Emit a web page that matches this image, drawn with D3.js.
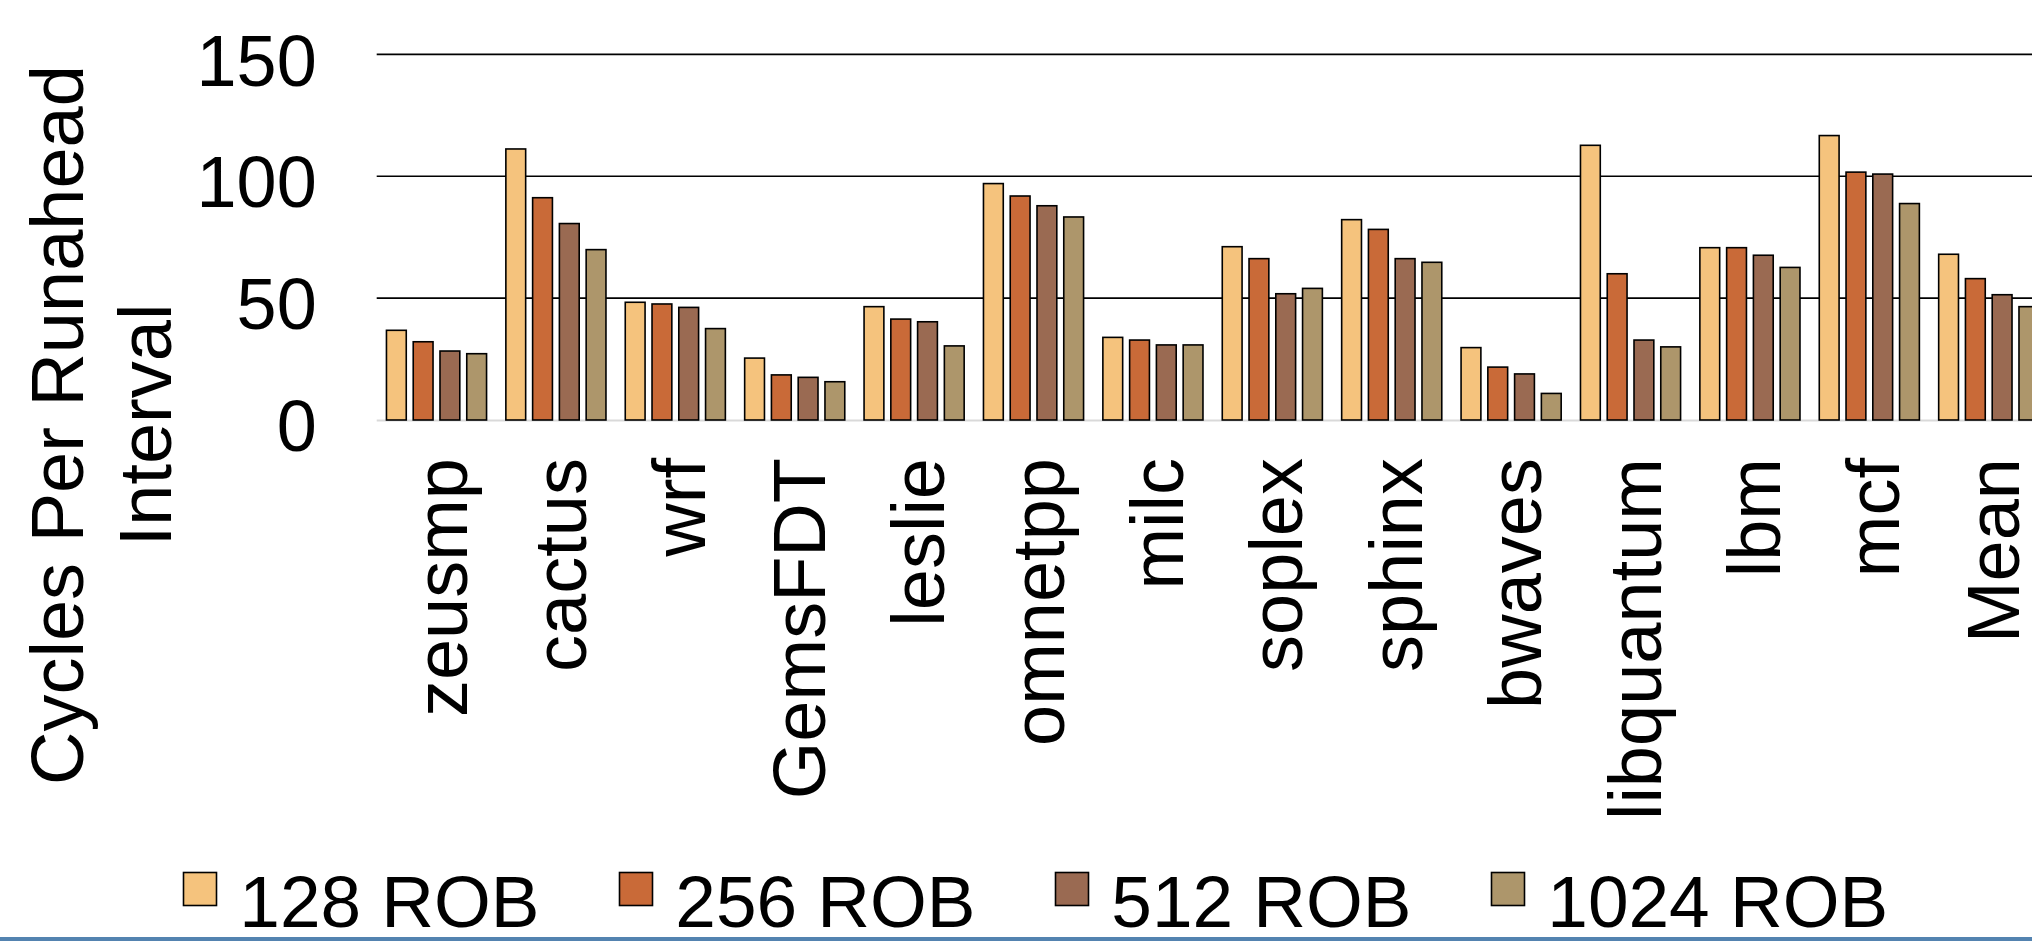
<!DOCTYPE html>
<html>
<head>
<meta charset="utf-8">
<script src="https://cdn.jsdelivr.net/npm/d3@7"></script>
<style>
  html, body { margin: 0; padding: 0; background: #ffffff; overflow: hidden; }
  svg { display: block; font-family: "Liberation Sans", Arial, Helvetica, sans-serif; }
</style>
</head>
<body>
<svg id="chart" width="2032" height="941"></svg>
<script>
// Benchmarks along the x axis
const benchmarks = ["zeusmp", "cactus", "wrf", "GemsFDT", "leslie", "omnetpp", "milc",
  "soplex", "sphinx", "bwaves", "libquantum", "lbm", "mcf", "Mean"];

// Reorder-buffer configurations (one bar per benchmark each)
const seriesNames = ["128 ROB", "256 ROB", "512 ROB", "1024 ROB"];
const seriesColors = ["#F5C37D", "#C96A38", "#9A6A52", "#AD966B"];

// Cycles per runahead interval
const rob128  = [36.8, 111.2, 48.3, 25.4, 46.5, 97.0, 33.9, 71.1, 82.2, 29.7, 112.7, 70.7, 116.7, 68.0];
const rob256  = [32.1,  91.2, 47.6, 18.5, 41.4, 91.9, 32.8, 66.2, 78.2, 21.7,  60.0, 70.7, 101.7, 58.0];
const rob512  = [28.3,  80.6, 46.2, 17.5, 40.3, 87.9, 30.8, 51.8, 66.2, 18.9,  32.8, 67.6, 100.9, 51.4];
const rob1024 = [27.2,  69.9, 37.5, 15.7, 30.4, 83.3, 30.8, 54.0, 64.7, 10.9,  30.0, 62.6,  88.8, 46.5];

const yTicks = [0, 50, 100, 150];
const yTitleLines = ["Cycles Per Runahead", "Interval"];

const seriesValues = [rob128, rob256, rob512, rob1024];

const svg = d3.select("#chart");
const W = 2032, H = 941;
const plotLeft = 376.7, groupStep = 119.4;
const baseY = 420, topY = 54.4;
const fontSize = 72;

const x0 = d3.scaleBand()
  .domain(benchmarks)
  .range([plotLeft, plotLeft + groupStep * 14.002])
  .paddingInner(0.1616)
  .paddingOuter(0.0817);

const x1 = d3.scaleBand()
  .domain(seriesNames)
  .range([0, x0.bandwidth()])
  .paddingInner(0.26)
  .paddingOuter(0);

const y = d3.scaleLinear().domain([0, 150]).range([baseY, topY]);
const color = d3.scaleOrdinal().domain(seriesNames).range(seriesColors);

// Horizontal gridlines
svg.append("g").selectAll("line")
  .data(yTicks.filter(t => t > 0))
  .join("line")
  .attr("x1", plotLeft).attr("x2", W)
  .attr("y1", d => y(d)).attr("y2", d => y(d))
  .attr("stroke", "#000").attr("stroke-width", 1.6);

// Baseline
svg.append("line")
  .attr("x1", plotLeft).attr("x2", W)
  .attr("y1", y(0) + 0.5).attr("y2", y(0) + 0.5)
  .attr("stroke", "#d9d9d9").attr("stroke-width", 2);

// Y tick labels
const yAxis = d3.axisLeft(y).tickValues(yTicks).tickSize(0).tickPadding(0);
const gy = svg.append("g").attr("transform", "translate(316.7,0)").call(yAxis);
gy.select(".domain").remove();
gy.selectAll("text")
  .attr("font-size", fontSize)
  .attr("font-family", "'Liberation Sans', Arial, Helvetica, sans-serif")
  .attr("fill", "#000")
  .attr("dy", null)
  .attr("y", 30.6)
  .attr("text-anchor", "end");

// Bars
const rows = benchmarks.map((b, i) => ({ bench: b, vals: seriesNames.map((s, j) => ({ s, v: seriesValues[j][i] })) }));
svg.append("g").selectAll("g")
  .data(rows)
  .join("g")
  .attr("transform", d => `translate(${x0(d.bench)},0)`)
  .selectAll("rect")
  .data(d => d.vals)
  .join("rect")
  .attr("x", d => x1(d.s))
  .attr("width", x1.bandwidth())
  .attr("y", d => y(d.v))
  .attr("height", d => y(0) - y(d.v))
  .attr("fill", d => color(d.s))
  .attr("stroke", "#000")
  .attr("stroke-width", 1.6);

// X labels (rotated)
const xAxis = d3.axisBottom(x0).tickSize(0).tickPadding(0);
const gx = svg.append("g").attr("transform", `translate(0,${baseY})`).call(xAxis);
gx.select(".domain").remove();
gx.selectAll("text")
  .attr("font-size", 74)
  .attr("font-family", "'Liberation Sans', Arial, Helvetica, sans-serif")
  .attr("fill", "#000")
  .attr("dy", null)
  .attr("text-anchor", "end")
  .attr("transform", "rotate(-90)")
  .attr("x", -38)
  .attr("y", 30);

// Y axis title
svg.append("g").selectAll("text")
  .data(yTitleLines)
  .join("text")
  .attr("transform", (d, i) => `translate(${82.7 + i * 88},425) rotate(-90)`)
  .attr("text-anchor", "middle")
  .attr("font-size", 74)
  .attr("fill", "#000")
  .text(d => d);

// Legend
const legend = svg.append("g").selectAll("g")
  .data(seriesNames)
  .join("g")
  .attr("transform", (d, i) => `translate(${182.7 + i * 436},0)`);
legend.append("rect")
  .attr("x", 0.8).attr("y", 872.5)
  .attr("width", 33).attr("height", 33)
  .attr("fill", d => color(d))
  .attr("stroke", "#000").attr("stroke-width", 1.6);
legend.append("text")
  .attr("x", 56.6).attr("y", 927)
  .attr("font-size", 73)
  .attr("fill", "#000")
  .text(d => d);

// Bottom rule
svg.append("rect")
  .attr("x", 0).attr("y", 937).attr("width", W).attr("height", 4)
  .attr("fill", "#5383B0");
</script>
</body>
</html>
